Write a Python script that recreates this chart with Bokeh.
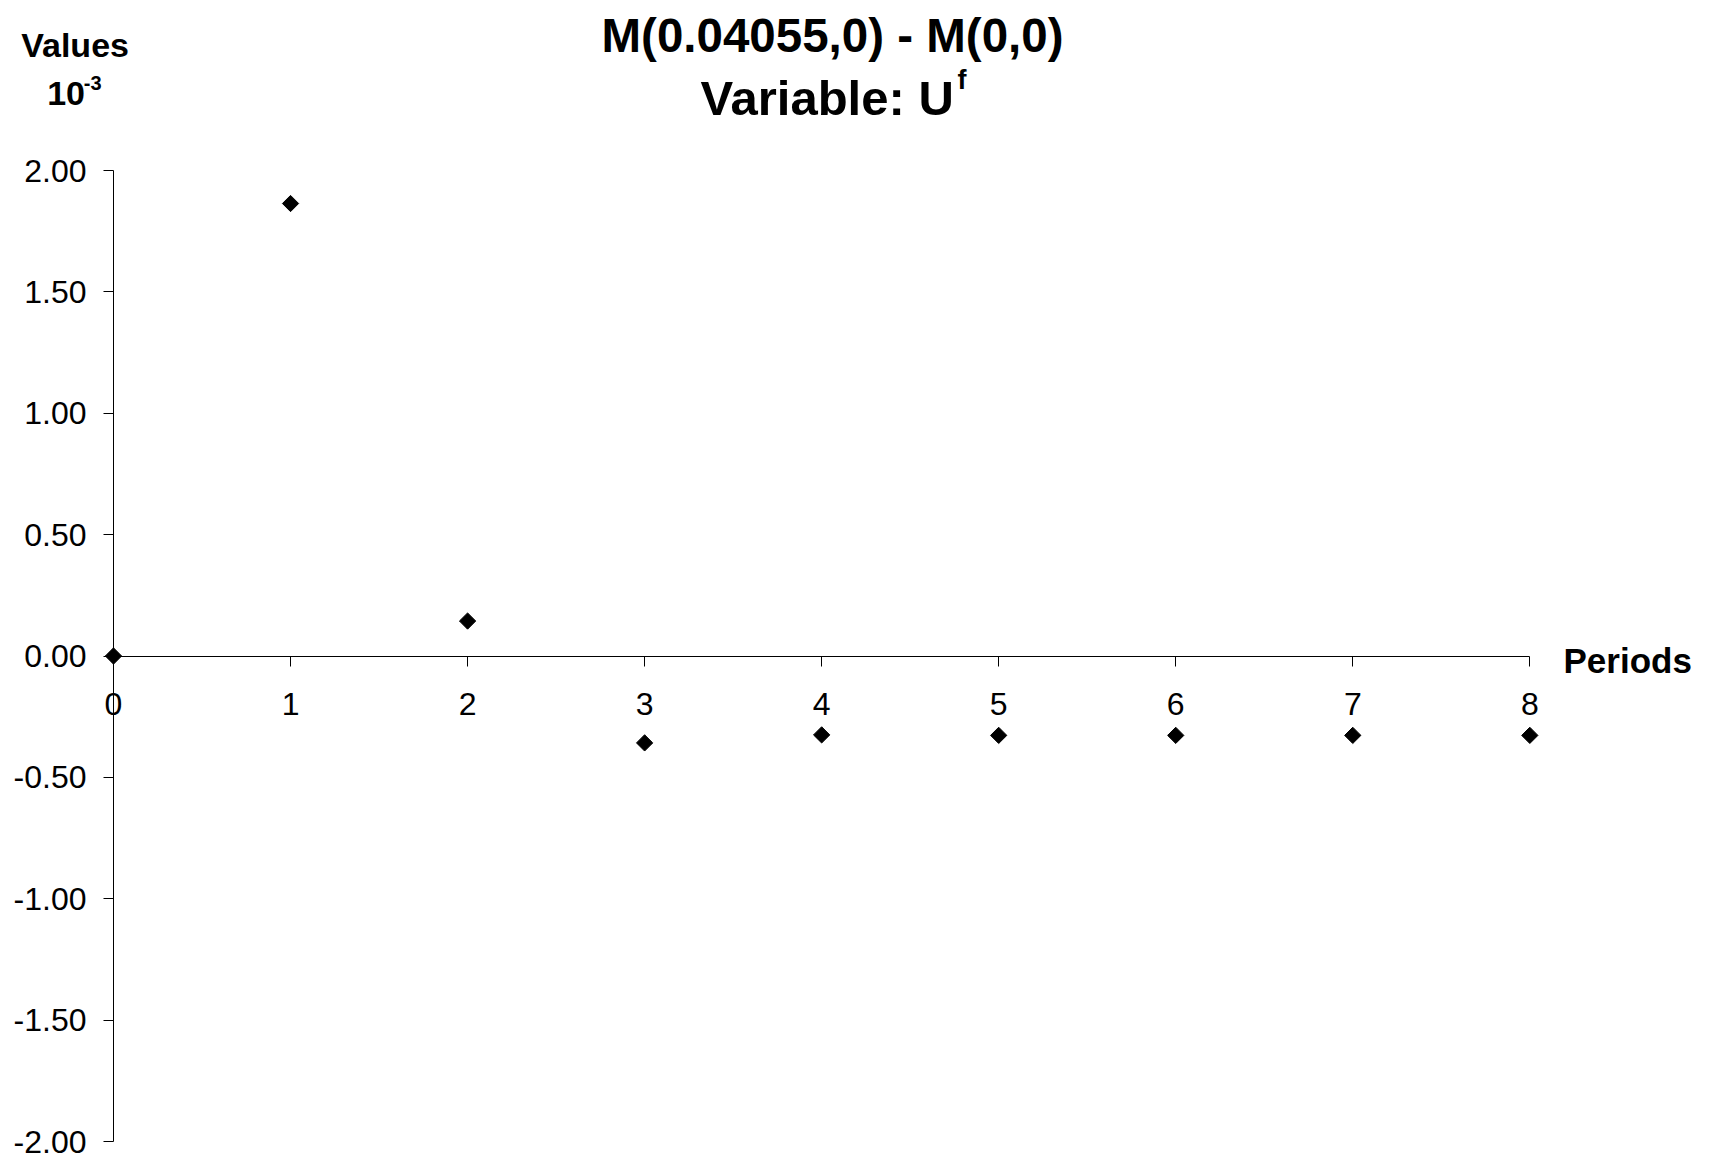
import math
from bokeh.plotting import figure
from bokeh.models import Range1d, LinearAxis, FixedTicker, Label, CustomJSTickFormatter
from bokeh.embed import file_html
from bokeh.resources import INLINE

periods = [0, 1, 2, 3, 4, 5, 6, 7, 8]
values = [0.0, 1.864, 0.144, -0.358, -0.325, -0.327, -0.327, -0.327, -0.327]
x_ticks = [0, 1, 2, 3, 4, 5, 6, 7, 8]
y_ticks = [-2.0, -1.5, -1.0, -0.5, 0.0, 0.5, 1.0, 1.5, 2.0]

FONT = "Liberation Sans"
W, H = 1700, 1160
PX_X = 177.04
PX_Y = 242.75
X0 = 113.0     # pixel of x = 0
Y0 = 655.5     # pixel of y = 0
xs = -X0 / PX_X
xe = xs + W / PX_X
ye = Y0 / PX_Y
ys = ye - H / PX_Y

p = figure(width=W, height=H, output_backend="svg", toolbar_location=None,
           x_range=Range1d(xs, xe), y_range=Range1d(ys, ye),
           x_axis_type=None, y_axis_type=None,
           min_border=0, min_border_left=0, min_border_right=0,
           min_border_top=0, min_border_bottom=0)
p.outline_line_color = None
p.background_fill_color = "white"
p.border_fill_color = "white"
p.xgrid.visible = False
p.ygrid.visible = False

xaxis = LinearAxis(fixed_location=0, bounds=(0, 8),
                   ticker=FixedTicker(ticks=x_ticks))
yaxis = LinearAxis(fixed_location=0, bounds=(-2, 2),
                   ticker=FixedTicker(ticks=y_ticks),
                   formatter=CustomJSTickFormatter(code="return tick.toFixed(2);"))
for ax in (xaxis, yaxis):
    ax.axis_line_color = "black"
    ax.axis_line_width = 1
    ax.major_tick_line_color = "black"
    ax.major_tick_out = 10
    ax.major_tick_in = 0
    ax.minor_tick_line_color = None
    ax.major_label_text_font = FONT
    ax.major_label_text_font_size = "32px"
    ax.major_label_text_color = "black"
xaxis.major_label_standoff = 27
yaxis.major_label_standoff = 17
p.add_layout(xaxis, "below")
p.add_layout(yaxis, "left")

p.scatter(periods, values, marker="square", angle=math.pi / 4, size=11.5,
          fill_color="black", line_color="black")


def add_text(txt, page_x, baseline_y, size, bold=True, align="left"):
    y_pos = baseline_y - 0.39 * size
    p.add_layout(Label(x=(page_x - X0) / PX_X, y=(Y0 - y_pos) / PX_Y,
                       text=txt, text_font=FONT, text_font_size=f"{size}px",
                       text_font_style="bold" if bold else "normal",
                       text_align=align, text_baseline="alphabetic",
                       text_color="black"))


add_text("M(0.04055,0) - M(0,0)", 832, 53.3, 47.5, align="center")
add_text("Variable: U", 700, 116.7, 49)
add_text("f", 957, 90, 27)
add_text("Values", 20.7, 57.3, 34)
add_text("10", 46.7, 106, 34)
add_text("-3", 83.3, 90.7, 20)
add_text("Periods", 1563, 674, 35)

open("out.html", "w").write(file_html(p, INLINE))
